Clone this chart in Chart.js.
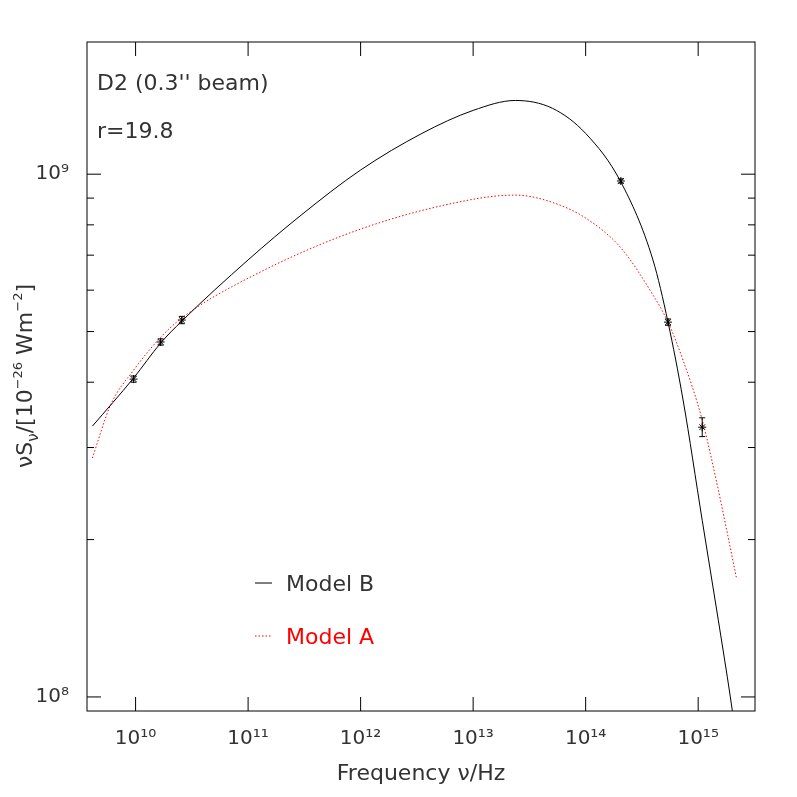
<!DOCTYPE html>
<html>
<head>
<meta charset="utf-8">
<script src="https://cdn.jsdelivr.net/npm/chart.js@4/dist/chart.umd.min.js"></script>
<style>
  html, body { margin: 0; padding: 0; background: #fff; }
  #wrap { width: 797px; height: 797px; }
</style>
</head>
<body>
<div id="wrap"><canvas id="sed"></canvas></div>
<script>
// log10 of frequency (Hz) and log10 of nuS_nu (1e-26 W m^-2)
const obsLogNu   = [9.982, 10.223, 10.411, 14.313, 14.732, 15.036];
const obsLogFlux = [8.608, 8.679, 8.721, 8.987, 8.717, 8.516];
const obsErrDex  = [0.006, 0.006, 0.007, 0.004, 0.006, 0.018];

const modelBLogNu   = [9.616, 9.982, 10.223, 10.411, 11.0, 11.473, 12.0, 12.545, 13.0, 13.375, 13.705, 14.0, 14.313, 14.598, 14.732, 14.866, 15.036, 15.179, 15.286, 15.321];
const modelBLogFlux = [8.518, 8.610, 8.677, 8.719, 8.836, 8.922, 9.008, 9.078, 9.122, 9.141, 9.126, 9.078, 8.985, 8.836, 8.717, 8.568, 8.338, 8.147, 8.0, 7.947];

const modelALogNu   = [9.616, 9.777, 9.982, 10.223, 10.411, 11.0, 12.0, 13.0, 13.375, 13.705, 14.0, 14.313, 14.598, 14.732, 14.866, 15.036, 15.179, 15.339];
const modelALogFlux = [8.457, 8.558, 8.625, 8.688, 8.725, 8.801, 8.895, 8.952, 8.960, 8.946, 8.916, 8.859, 8.769, 8.717, 8.644, 8.530, 8.396, 8.229];

const xDecades = [10, 11, 12, 13, 14, 15];
const yDecades = [8, 9];
const yMinor = [2, 3, 4, 5, 6, 7, 8, 9];

const FONT = '"DejaVu Sans", sans-serif';
const sup = s => String(s).split('').map(c => '⁰¹²³⁴⁵⁶⁷⁸⁹'['0123456789'.indexOf(c)] || c).join('');

function pts(lx, ly) { return lx.map((v, i) => ({ x: Math.pow(10, v), y: Math.pow(10, ly[i]) })); }

const frame = {
    id: 'frame',
    afterDraw(chart) {
        const { ctx, chartArea: a, scales: { x, y } } = chart;
        ctx.save();
        ctx.strokeStyle = '#000';
        ctx.lineWidth = 1;
        ctx.strokeRect(a.left, a.top, a.right - a.left, a.bottom - a.top);
        ctx.beginPath();
        xDecades.forEach(d => {
            const px = x.getPixelForValue(Math.pow(10, d));
            ctx.moveTo(px, a.bottom); ctx.lineTo(px, a.bottom - 14);
            ctx.moveTo(px, a.top); ctx.lineTo(px, a.top + 14);
        });
        [7, 8, 9].forEach(d => {
            yMinor.concat([10]).forEach(m => {
                const v = m * Math.pow(10, d);
                if (v < y.min || v > y.max) return;
                const py = y.getPixelForValue(v);
                const len = m === 10 ? 14 : 7;
                ctx.moveTo(a.left, py); ctx.lineTo(a.left + len, py);
                ctx.moveTo(a.right, py); ctx.lineTo(a.right - len, py);
            });
        });
        ctx.stroke();

        // error bars
        obsLogNu.forEach((lx, i) => {
            const px = x.getPixelForValue(Math.pow(10, lx));
            const p1 = y.getPixelForValue(Math.pow(10, obsLogFlux[i] + obsErrDex[i]));
            const p2 = y.getPixelForValue(Math.pow(10, obsLogFlux[i] - obsErrDex[i]));
            ctx.beginPath();
            ctx.moveTo(px, p1); ctx.lineTo(px, p2);
            ctx.moveTo(px - 3, p1); ctx.lineTo(px + 3, p1);
            ctx.moveTo(px - 3, p2); ctx.lineTo(px + 3, p2);
            ctx.stroke();
        });

        // labels inside plot
        ctx.fillStyle = '#333';
        ctx.font = '22px ' + FONT;
        ctx.textBaseline = 'alphabetic';
        ctx.fillText("D2 (0.3'' beam)", 97, 90);
        ctx.fillText('r=19.8', 97, 138);

        // legend
        ctx.beginPath();
        ctx.moveTo(255, 583); ctx.lineTo(272, 583);
        ctx.stroke();
        ctx.fillText('Model B', 286, 591);
        ctx.strokeStyle = '#ff0000';
        ctx.setLineDash([1.5, 2]);
        ctx.beginPath();
        ctx.moveTo(255, 636); ctx.lineTo(272, 636);
        ctx.stroke();
        ctx.setLineDash([]);
        ctx.fillStyle = '#ff0000';
        ctx.fillText('Model A', 286, 644);

        // axis titles
        ctx.fillStyle = '#333';
        ctx.textAlign = 'center';
        ctx.fillText('Frequency ν/Hz', 421, 780);
        ctx.save();
        ctx.translate(24, 376);
        ctx.rotate(-Math.PI / 2);
        ctx.textAlign = 'left';
        const parts = [['νS', 22, 0], ['ν', 15, 6], ['/[10', 22, 0], ['−26', 13, -10], [' Wm', 22, 0], ['−2', 13, -10], [']', 22, 0]];
        let total = 0;
        parts.forEach(p => { ctx.font = p[1] + 'px ' + FONT; total += ctx.measureText(p[0]).width; });
        let cx = -total / 2;
        parts.forEach(p => {
            ctx.font = p[1] + 'px ' + FONT;
            ctx.fillText(p[0], cx, 8 + p[2]);
            cx += ctx.measureText(p[0]).width;
        });
        ctx.restore();
        ctx.restore();
    }
};

new Chart(document.getElementById('sed'), {
    type: 'scatter',
    data: {
        datasets: [
            { label: 'Model B', data: pts(modelBLogNu, modelBLogFlux), showLine: true, borderColor: '#000', borderWidth: 1, pointRadius: 0, tension: 0.4, cubicInterpolationMode: 'monotone' },
            { label: 'Model A', data: pts(modelALogNu, modelALogFlux), showLine: true, borderColor: '#ff0000', borderWidth: 1, borderDash: [1.5, 2], pointRadius: 0, cubicInterpolationMode: 'monotone' },
            { label: 'data', data: pts(obsLogNu, obsLogFlux), pointStyle: 'star', pointRadius: 4, borderColor: '#000', borderWidth: 1, backgroundColor: '#000' }
        ]
    },
    options: {
        responsive: true,
        maintainAspectRatio: false,
        animation: false,
        layout: { padding: { top: 42, right: 42, left: 0, bottom: 0 } },
        plugins: { legend: { display: false }, tooltip: { enabled: false } },
        scales: {
            x: {
                type: 'logarithmic',
                min: 3.7e9, max: 3.2e15,
                grid: { display: false },
                border: { display: false },
                afterBuildTicks: s => { s.ticks = xDecades.map(d => ({ value: Math.pow(10, d) })); },
                afterFit: s => { s.height = 86; },
                ticks: { color: '#333', font: { family: FONT, size: 20 }, padding: 8, maxRotation: 0, autoSkip: false,
                    callback: v => '10' + sup(Math.round(Math.log10(v))) }
            },
            y: {
                type: 'logarithmic',
                min: 9.4e7, max: 1.79e9,
                grid: { display: false },
                border: { display: false },
                afterBuildTicks: s => { s.ticks = yDecades.map(d => ({ value: Math.pow(10, d) })); },
                afterFit: s => { s.width = 87; },
                ticks: { color: '#333', font: { family: FONT, size: 20 }, padding: 10, autoSkip: false,
                    callback: v => '10' + sup(Math.round(Math.log10(v))) }
            }
        }
    },
    plugins: [frame]
});
</script>
</body>
</html>
